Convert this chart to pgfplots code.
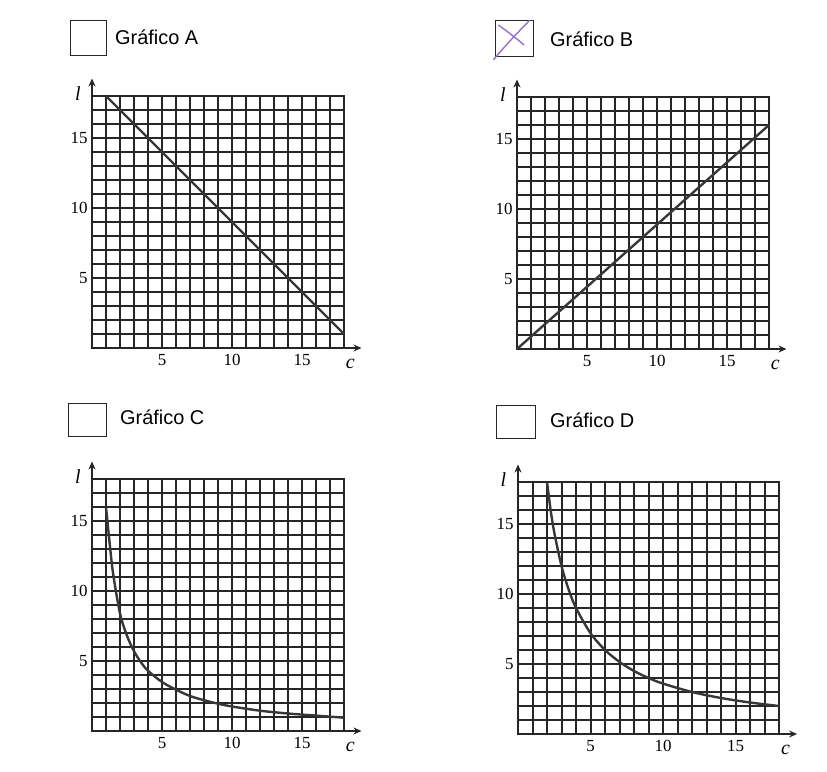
\documentclass[border=0pt]{standalone}
\usepackage{pgfplots}
\pgfplotsset{compat=1.18}
\usepackage{fontspec}
\setmainfont{Liberation Serif}
\newfontfamily\labelsans{Liberation Sans}
\usetikzlibrary{arrows.meta}

\definecolor{ink}{RGB}{38,38,38}
\definecolor{curveink}{RGB}{55,55,55}
\definecolor{penmark}{RGB}{150,112,205}

\pgfplotsset{
  gridpanel/.style={
    scale only axis,
    anchor=south west,
    xmin=0, xmax=18, ymin=0, ymax=18,
    xtick={0,1,...,18}, ytick={0,1,...,18},
    xticklabels={,,,,,5,,,,,10,,,,,15,,,},
    yticklabels={,,,,,5,,,,,10,,,,,15,,,},
    grid=major,
    major grid style={draw=ink, line width=2bp},
    axis line style={draw=ink, line width=2bp},
    major tick length=0pt,
    tick style={draw=none},
    tick label style={font=\fontsize{17}{17}\selectfont},
    xticklabel style={yshift=-3bp},
    yticklabel style={xshift=-1bp},
    clip=false,
  },
  curve/.style={draw=curveink, line width=2.4bp, no marks},
}

% arrows on both axes and the axis letters l and c
\newcommand{\panelaxes}{%
  \draw[ink, line width=1.6bp, -{Stealth[length=8bp,width=7bp]}] (axis cs:0,18) -- (axis cs:0,19.25);
  \draw[ink, line width=1.6bp, -{Stealth[length=8bp,width=7bp]}] (axis cs:18,0) -- (axis cs:19.25,0);
  \node[font=\itshape\fontsize{20}{20}\selectfont] at (axis cs:-1.0,18.2) {l};
  \node[font=\itshape\fontsize{20}{20}\selectfont] at (axis cs:18.45,-1.15) {c};
}
\newcommand{\panelcaption}[2]{%
  \node[anchor=base west, font=\labelsans\fontsize{20}{20}\selectfont, inner sep=0] at #1 {#2};}

\begin{document}
\begin{tikzpicture}

% check boxes and captions
\draw[ink, line width=0.9bp] (70bp,717bp) rectangle (106.7bp,752bp);
\panelcaption{(115bp,727bp)}{Gráfico A}
\draw[ink, line width=0.9bp] (495bp,715.3bp) rectangle (533.3bp,752bp);
\panelcaption{(550bp,725.3bp)}{Gráfico B}
\draw[ink, line width=0.9bp] (68.3bp,336bp) rectangle (106.7bp,368.7bp);
\panelcaption{(120bp,347bp)}{Gráfico C}
\draw[ink, line width=0.9bp] (496bp,333.7bp) rectangle (535bp,367bp);
\panelcaption{(550bp,344bp)}{Gráfico D}

% pen cross in box B
\draw[penmark, line width=1.4bp] (498.3bp,747bp) .. controls (508bp,740bp) and (516bp,734bp) .. (524bp,727bp);
\draw[penmark, line width=1.4bp] (530bp,752bp) .. controls (518bp,740bp) and (505bp,726bp) .. (493.3bp,712bp);

% Gráfico A
\begin{axis}[gridpanel, at={(92bp,424bp)}, width=252bp, height=252bp]
  \addplot[curve] coordinates {(1,18) (18,1)};
  \panelaxes
\end{axis}

% Gráfico B
\begin{axis}[gridpanel, at={(517bp,423bp)}, width=252bp, height=252bp]
  \addplot[curve] coordinates {(0,0) (18,16)};
  \panelaxes
\end{axis}

% Gráfico C
\begin{axis}[gridpanel, at={(92bp,41bp)}, width=252bp, height=252bp]
  \addplot[curve, smooth] coordinates {
    (1,16) (1.1,15) (1.2,14) (1.5,11.3) (2,8.4) (2.5,6.8) (3,5.7) (3.5,4.9)
    (4,4.3) (5,3.5) (6,2.95) (7,2.5) (8,2.2) (9,1.95) (10,1.75) (12,1.45)
    (14,1.25) (16,1.1) (18,0.95)};
  \panelaxes
\end{axis}

% Gráfico D
\begin{axis}[gridpanel, at={(518bp,38bp)}, width=261bp, height=252bp]
  \addplot[curve, smooth] coordinates {
    (2,18) (2.25,16) (2.5,14.4) (3,12) (3.5,10.3) (4,9) (5,7.2) (6,6)
    (7,5.15) (8,4.5) (9,4) (10,3.6) (12,3) (14,2.57) (16,2.25) (18,2.0)};
  \panelaxes
\end{axis}

\pgfresetboundingbox
\path[use as bounding box] (0bp,0bp) rectangle (827bp,772bp);
\end{tikzpicture}
\end{document}
